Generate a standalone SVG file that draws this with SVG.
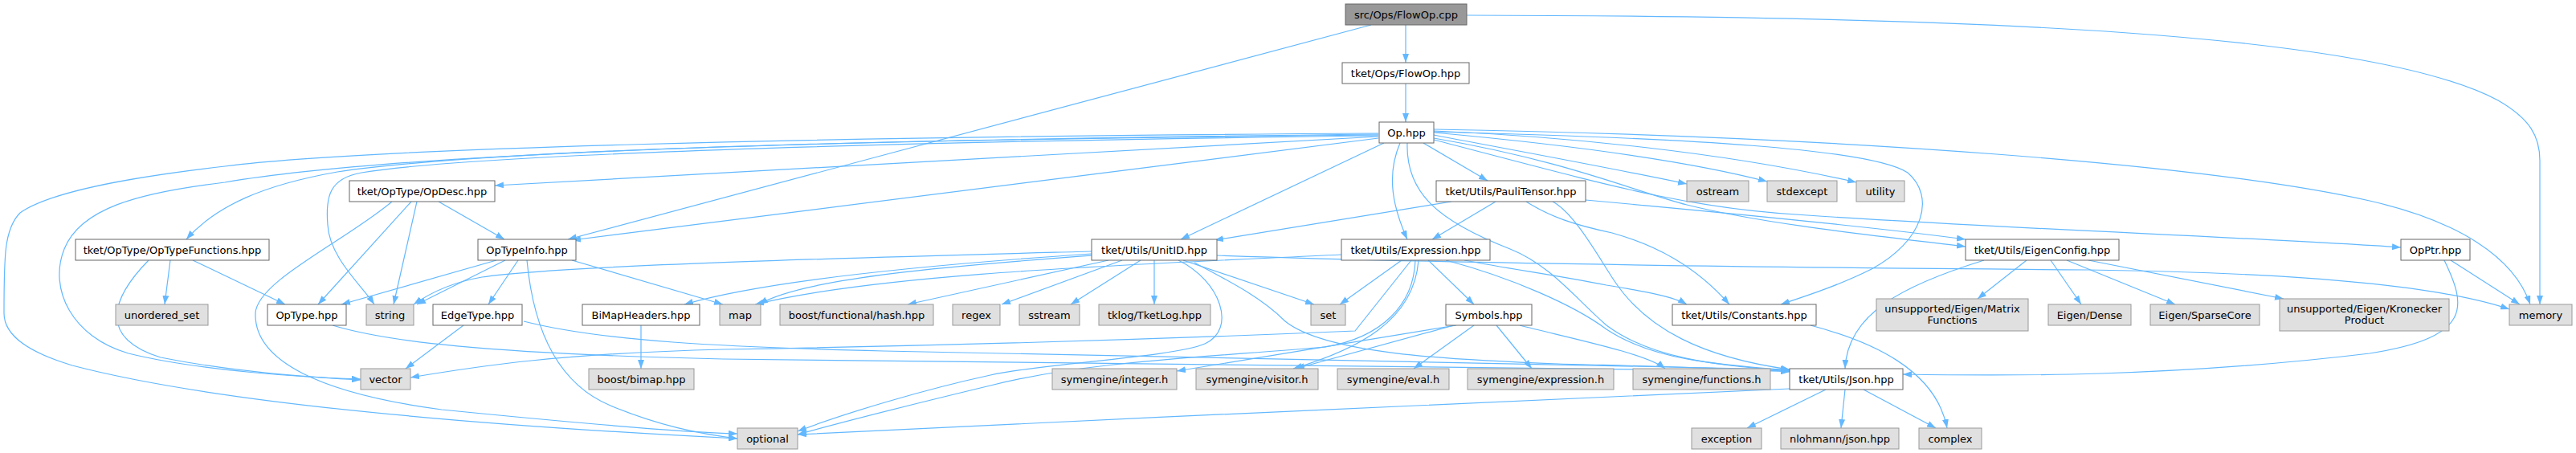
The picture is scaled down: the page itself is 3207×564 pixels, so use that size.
<svg xmlns="http://www.w3.org/2000/svg" width="3207" height="564" viewBox="0 0 3207 564">
<defs>
<marker id="ah" markerUnits="userSpaceOnUse" markerWidth="11" markerHeight="8" viewBox="0 0 11 8" refX="11" refY="4" orient="auto"><path d="M0,0 L11,4 L0,8 z" fill="#63b8ff"/></marker>
<style>
.w{fill:#ffffff;stroke:#666666;stroke-width:1}
.g{fill:#e0e0e0;stroke:#999999;stroke-width:1}
.r{fill:#999999;stroke:#666666;stroke-width:1}
text{font-family:"DejaVu Sans","Liberation Sans",sans-serif;font-size:13px;fill:#000000;text-anchor:middle}
#edges path{fill:none;stroke:#63b8ff;stroke-width:1.2;marker-end:url(#ah)}
</style>
</defs>
<rect x="0" y="0" width="3207" height="564" fill="#ffffff"/>
<g id="edges">
<path d="M1750,31 L1750,78"/>
<path d="M1707,31 L707,298"/>
<path d="M1826,19 C2450,20 2950,40 3110,125 C3150,148 3162,170 3162,200 L3162,379"/>
<path d="M1750,104 L1750,152"/>
<path d="M1716,170 L616,231"/>
<path d="M1716,168 C1300,172 650,180 420,214 C330,230 270,255 232,298"/>
<path d="M1716,167 C1000,175 500,190 280,227 C170,240 100,260 80,310 C60,360 90,420 160,440 C250,462 380,470 449,472"/>
<path d="M1716,166 C1000,170 450,185 280,207 C150,222 60,240 25,265 C5,285 5,320 5,390 C5,420 40,440 90,455 C300,510 700,535 918,546"/>
<path d="M1716,169 C1200,175 600,190 450,215 C410,222 405,245 408,280 C410,320 450,355 466,379"/>
<path d="M1716,172 L712,299"/>
<path d="M1723,178 L1470,298"/>
<path d="M1743,178 C1725,220 1735,260 1752,298"/>
<path d="M1772,178 L1852,225"/>
<path d="M1752,178 C1750,240 1790,275 1880,310 C1930,330 1960,370 2000,405 C2060,450 2150,455 2228,462"/>
<path d="M1785,168 C1900,190 2000,208 2100,229"/>
<path d="M1785,165 C1950,180 2100,200 2200,226"/>
<path d="M1785,163 C1950,170 2150,190 2311,227"/>
<path d="M1785,161 C2300,170 2750,205 2950,250 C3060,275 3130,320 3150,379"/>
<path d="M1785,164 C2100,172 2330,185 2375,215 C2410,245 2395,300 2330,335 C2290,355 2250,368 2217,379"/>
<path d="M1785,172 C1950,200 2040,240 2100,255 C2200,280 2350,295 2447,307"/>
<path d="M1785,174 C2000,230 2100,260 2250,268 C2500,285 2800,295 2989,308"/>
<path d="M1807,251 L1512,299"/>
<path d="M1862,251 L1783,298"/>
<path d="M1900,251 C1930,270 1960,280 2007,290 C2060,305 2110,330 2153,379"/>
<path d="M1933,251 C1960,265 1990,320 2010,350 C2050,410 2120,445 2228,460"/>
<path d="M1974,249 C2150,265 2350,285 2447,298"/>
<path d="M1359,313 C1100,320 700,330 600,345 C560,352 535,365 515,379"/>
<path d="M1359,316 C1150,330 950,350 852,379"/>
<path d="M1359,318 C1200,330 1000,345 945,379"/>
<path d="M1380,324 L1130,379"/>
<path d="M1397,324 L1247,379"/>
<path d="M1420,324 L1333,379"/>
<path d="M1437,324 L1437,379"/>
<path d="M1473,324 L1636,379"/>
<path d="M1467,324 C1520,350 1540,410 1500,428 C1460,445 1300,452 1233,467 C1150,485 1050,515 993,537"/>
<path d="M1487,327 C1530,350 1570,370 1600,400 C1650,440 1800,448 1940,453 C2050,456 2150,458 2228,463"/>
<path d="M1515,318 C1800,328 2200,333 2600,336 C2900,340 3050,360 3124,385"/>
<path d="M1670,317 C1400,330 1100,340 940,379"/>
<path d="M1745,324 L1668,379"/>
<path d="M1778,324 L1835,379"/>
<path d="M1823,324 C1880,335 1940,343 2000,355 C2050,363 2085,370 2100,379"/>
<path d="M1800,324 C1880,345 1960,380 2000,410 C2060,450 2150,455 2228,461"/>
<path d="M1762,324 C1760,380 1720,420 1650,432 C1500,445 1350,450 1233,480 C1150,500 1050,525 993,541"/>
<path d="M1766,324 C1760,400 1690,435 1610,459"/>
<path d="M1757,324 L1687,412 C1500,420 1200,430 900,435 C700,440 600,455 511,470"/>
<path d="M1813,405 L1465,462"/>
<path d="M1810,405 L1613,459"/>
<path d="M1835,405 L1760,459"/>
<path d="M1863,405 L1907,459"/>
<path d="M1892,405 C1950,420 2050,440 2073,459"/>
<path d="M618,324 L425,379"/>
<path d="M629,324 L519,379"/>
<path d="M645,324 L608,379"/>
<path d="M712,324 L900,379"/>
<path d="M656,324 C665,420 700,480 760,505 C820,530 870,540 918,546"/>
<path d="M546,251 L628,298"/>
<path d="M512,251 L396,379"/>
<path d="M519,251 L490,379"/>
<path d="M488,251 C430,300 320,350 318,390 C316,450 400,490 550,510 C700,525 850,538 918,540"/>
<path d="M212,324 L205,379"/>
<path d="M240,324 L355,379"/>
<path d="M185,324 C140,370 120,420 200,445 C300,465 400,470 449,473"/>
<path d="M414,405 C480,425 600,440 900,447 C1400,455 1900,455 2228,462"/>
<path d="M652,400 C750,425 900,432 1100,437 C1600,445 2000,452 2228,460"/>
<path d="M577,405 L505,459"/>
<path d="M798,405 L798,459"/>
<path d="M2470,324 C2370,355 2300,390 2297,459"/>
<path d="M2523,324 L2462,372"/>
<path d="M2553,324 L2591,379"/>
<path d="M2573,324 L2708,379"/>
<path d="M2600,324 L2843,372"/>
<path d="M3051,324 L3137,379"/>
<path d="M3043,324 C3070,380 3080,420 2950,440 C2700,470 2500,468 2369,466"/>
<path d="M2254,405 C2330,425 2410,460 2424,533"/>
<path d="M2273,485 L2175,533"/>
<path d="M2297,485 L2292,533"/>
<path d="M2320,485 L2410,533"/>
<path d="M2228,484 C1900,500 1400,520 993,541"/>
</g>
<g id="n_flowopcpp"><rect class="r" x="1675" y="5" width="151" height="26"/><text x="1750.5" y="22.5">src/Ops/FlowOp.cpp</text></g>
<g id="n_flowophpp"><rect class="w" x="1671" y="78" width="158" height="26"/><text x="1750" y="95.5">tket/Ops/FlowOp.hpp</text></g>
<g id="n_op"><rect class="w" x="1717" y="152" width="68" height="26"/><text x="1751" y="169.5">Op.hpp</text></g>
<g id="n_opdesc"><rect class="w" x="435" y="225" width="181" height="26"/><text x="525.5" y="242.5">tket/OpType/OpDesc.hpp</text></g>
<g id="n_paulitensor"><rect class="w" x="1788" y="225" width="186" height="26"/><text x="1881" y="242.5">tket/Utils/PauliTensor.hpp</text></g>
<g id="n_ostream"><rect class="g" x="2100" y="225" width="77" height="26"/><text x="2138.5" y="242.5">ostream</text></g>
<g id="n_stdexcept"><rect class="g" x="2200" y="225" width="87" height="26"/><text x="2243.5" y="242.5">stdexcept</text></g>
<g id="n_utility"><rect class="g" x="2311" y="225" width="60" height="26"/><text x="2341" y="242.5">utility</text></g>
<g id="n_optypefunctions"><rect class="w" x="94" y="298" width="241" height="26"/><text x="214.5" y="315.5">tket/OpType/OpTypeFunctions.hpp</text></g>
<g id="n_optypeinfo"><rect class="w" x="595" y="298" width="122" height="26"/><text x="656" y="315.5">OpTypeInfo.hpp</text></g>
<g id="n_unitid"><rect class="w" x="1359" y="298" width="156" height="26"/><text x="1437" y="315.5">tket/Utils/UnitID.hpp</text></g>
<g id="n_expression"><rect class="w" x="1670" y="298" width="185" height="26"/><text x="1762.5" y="315.5">tket/Utils/Expression.hpp</text></g>
<g id="n_eigenconfig"><rect class="w" x="2447" y="298" width="191" height="26"/><text x="2542.5" y="315.5">tket/Utils/EigenConfig.hpp</text></g>
<g id="n_opptr"><rect class="w" x="2989" y="298" width="86" height="26"/><text x="3032" y="315.5">OpPtr.hpp</text></g>
<g id="n_unordered_set"><rect class="g" x="144" y="379" width="115" height="26"/><text x="201.5" y="396.5">unordered_set</text></g>
<g id="n_optype"><rect class="w" x="333" y="379" width="98" height="26"/><text x="382" y="396.5">OpType.hpp</text></g>
<g id="n_string"><rect class="g" x="456" y="379" width="59" height="26"/><text x="485.5" y="396.5">string</text></g>
<g id="n_edgetype"><rect class="w" x="539" y="379" width="111" height="26"/><text x="594.5" y="396.5">EdgeType.hpp</text></g>
<g id="n_bimapheaders"><rect class="w" x="725" y="379" width="146" height="26"/><text x="798" y="396.5">BiMapHeaders.hpp</text></g>
<g id="n_map"><rect class="g" x="896" y="379" width="51" height="26"/><text x="921.5" y="396.5">map</text></g>
<g id="n_hash"><rect class="g" x="971" y="379" width="191" height="26"/><text x="1066.5" y="396.5">boost/functional/hash.hpp</text></g>
<g id="n_regex"><rect class="g" x="1186" y="379" width="59" height="26"/><text x="1215.5" y="396.5">regex</text></g>
<g id="n_sstream"><rect class="g" x="1269" y="379" width="75" height="26"/><text x="1306.5" y="396.5">sstream</text></g>
<g id="n_tketlog"><rect class="g" x="1368" y="379" width="139" height="26"/><text x="1437.5" y="396.5">tklog/TketLog.hpp</text></g>
<g id="n_set"><rect class="g" x="1632" y="379" width="43" height="26"/><text x="1653.5" y="396.5">set</text></g>
<g id="n_symbols"><rect class="w" x="1800" y="379" width="107" height="26"/><text x="1853.5" y="396.5">Symbols.hpp</text></g>
<g id="n_constants"><rect class="w" x="2082" y="379" width="179" height="26"/><text x="2171.5" y="396.5">tket/Utils/Constants.hpp</text></g>
<g id="n_matrixfunctions"><rect class="g" x="2336" y="372" width="189" height="40"/><text x="2430.5" y="388.5">unsupported/Eigen/Matrix</text><text x="2430.5" y="402.5">Functions</text></g>
<g id="n_dense"><rect class="g" x="2550" y="379" width="103" height="26"/><text x="2601.5" y="396.5">Eigen/Dense</text></g>
<g id="n_sparsecore"><rect class="g" x="2677" y="379" width="136" height="26"/><text x="2745" y="396.5">Eigen/SparseCore</text></g>
<g id="n_kronecker"><rect class="g" x="2838" y="372" width="211" height="40"/><text x="2943.5" y="388.5">unsupported/Eigen/Kronecker</text><text x="2943.5" y="402.5">Product</text></g>
<g id="n_memory"><rect class="g" x="3124" y="379" width="78" height="26"/><text x="3163" y="396.5">memory</text></g>
<g id="n_vector"><rect class="g" x="449" y="459" width="62" height="26"/><text x="480" y="476.5">vector</text></g>
<g id="n_bimap"><rect class="g" x="733" y="459" width="131" height="26"/><text x="798.5" y="476.5">boost/bimap.hpp</text></g>
<g id="n_integer"><rect class="g" x="1310" y="459" width="155" height="26"/><text x="1387.5" y="476.5">symengine/integer.h</text></g>
<g id="n_visitor"><rect class="g" x="1489" y="459" width="152" height="26"/><text x="1565" y="476.5">symengine/visitor.h</text></g>
<g id="n_eval"><rect class="g" x="1665" y="459" width="139" height="26"/><text x="1734.5" y="476.5">symengine/eval.h</text></g>
<g id="n_sexpression"><rect class="g" x="1827" y="459" width="182" height="26"/><text x="1918" y="476.5">symengine/expression.h</text></g>
<g id="n_functions"><rect class="g" x="2033" y="459" width="171" height="26"/><text x="2118.5" y="476.5">symengine/functions.h</text></g>
<g id="n_json"><rect class="w" x="2228" y="459" width="141" height="26"/><text x="2298.5" y="476.5">tket/Utils/Json.hpp</text></g>
<g id="n_optional"><rect class="g" x="918" y="533" width="75" height="26"/><text x="955.5" y="550.5">optional</text></g>
<g id="n_exception"><rect class="g" x="2106" y="533" width="87" height="26"/><text x="2149.5" y="550.5">exception</text></g>
<g id="n_nlohmann"><rect class="g" x="2217" y="533" width="147" height="26"/><text x="2290.5" y="550.5">nlohmann/json.hpp</text></g>
<g id="n_complex"><rect class="g" x="2389" y="533" width="78" height="26"/><text x="2428" y="550.5">complex</text></g>
</svg>
